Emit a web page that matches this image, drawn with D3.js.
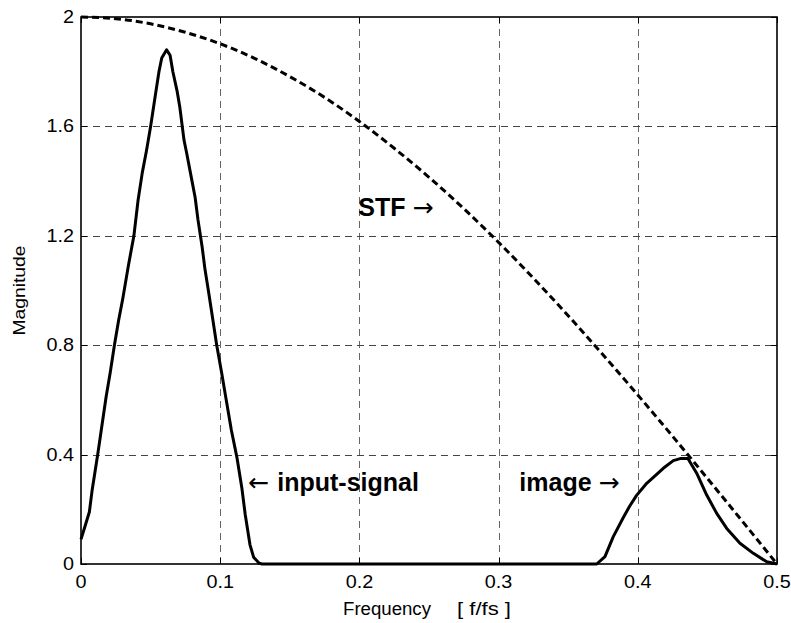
<!DOCTYPE html>
<head>
  <meta charset="utf-8">
  <title>STF and signal spectrum</title>
  <script src="https://cdn.jsdelivr.net/npm/d3@7/dist/d3.min.js"></script>
  <style>
    body{
      margin: 0;
      background: #fff;
    }
    text{
      font-family: "Liberation Sans", Arial, sans-serif;
      fill: #000;
    }
    .arrow{
      font-family: "DejaVu Sans", sans-serif;
    }
  </style>
</head>

<body>
<div id="chart"></div>
<script>
// tick labels
const xTicks = [0, 0.1, 0.2, 0.3, 0.4, 0.5];
const yTicks = [0, 0.4, 0.8, 1.2, 1.6, 2];

// STF curve (dashed), read every 0.025
const stfFreq = [0, 0.025, 0.05, 0.075, 0.1, 0.125, 0.15, 0.175, 0.2, 0.225, 0.25,
  0.275, 0.3, 0.325, 0.35, 0.375, 0.4, 0.425, 0.45, 0.475, 0.5];
const stfMag = [2.0, 1.994, 1.975, 1.944, 1.902, 1.848, 1.782, 1.706, 1.618, 1.52, 1.414,
  1.299, 1.176, 1.045, 0.908, 0.765, 0.618, 0.467, 0.313, 0.157, 0.0];

// input signal + image (solid)
const sigFreq = [0, 0.003, 0.006, 0.008, 0.012, 0.014, 0.018, 0.021, 0.024, 0.027, 0.030,
  0.034, 0.038, 0.041, 0.044, 0.047, 0.050, 0.053, 0.056, 0.058, 0.0615, 0.064, 0.066,
  0.069, 0.071, 0.074, 0.076, 0.079, 0.082, 0.084, 0.087, 0.089, 0.0915, 0.0945, 0.0975,
  0.101, 0.104, 0.108, 0.112, 0.1155, 0.118, 0.1214, 0.124, 0.128, 0.13,
  0.25, 0.3705, 0.3764, 0.3824, 0.3896, 0.394, 0.399, 0.4064, 0.4183, 0.4255, 0.431,
  0.436, 0.4423, 0.4495, 0.4567, 0.4639, 0.4734, 0.483, 0.4926, 0.5];
const sigMag = [0.09, 0.14, 0.19, 0.27, 0.40, 0.47, 0.61, 0.70, 0.80, 0.89, 0.97,
  1.09, 1.20, 1.33, 1.43, 1.51, 1.60, 1.70, 1.80, 1.85, 1.88, 1.86, 1.80,
  1.73, 1.67, 1.55, 1.50, 1.42, 1.34, 1.26, 1.16, 1.08, 1.00, 0.90, 0.80,
  0.70, 0.61, 0.49, 0.39, 0.28, 0.18, 0.07, 0.025, 0.003, 0,
  0, 0, 0.027, 0.10, 0.17, 0.21, 0.25, 0.295, 0.35, 0.378, 0.386,
  0.386, 0.332, 0.252, 0.185, 0.13, 0.076, 0.039, 0.008, 0];

const width = 791;
const height = 623;
const margin = { top: 17, right: 14, bottom: 59, left: 81 };
const iw = width - margin.left - margin.right;
const ih = height - margin.top - margin.bottom;

const x = d3.scaleLinear().domain([0, 0.5]).range([0, iw]);
const y = d3.scaleLinear().domain([0, 2]).range([ih, 0]);

const svg = d3.select('#chart')
  .append('svg')
  .attr('width', width)
  .attr('height', height);

const g = svg.append('g')
  .attr('transform', `translate(${margin.left},${margin.top})`);

// grid
g.selectAll('.vgrid')
  .data(xTicks.slice(1, -1))
  .enter()
  .append('line')
  .attr('x1', d => Math.round(x(d)) + 0.5)
  .attr('x2', d => Math.round(x(d)) + 0.5)
  .attr('y1', 0)
  .attr('y2', ih)
  .attr('stroke', '#666')
  .attr('stroke-width', 1)
  .attr('stroke-dasharray', '7,5');

g.selectAll('.hgrid')
  .data(yTicks.slice(1, -1))
  .enter()
  .append('line')
  .attr('x1', 0)
  .attr('x2', iw)
  .attr('y1', d => Math.round(y(d)) + 0.5)
  .attr('y2', d => Math.round(y(d)) + 0.5)
  .attr('stroke', '#444')
  .attr('stroke-width', 1)
  .attr('stroke-dasharray', '7,5');

// inward ticks on all four sides
const tickLen = 6;
xTicks.forEach(t => {
  const px = Math.round(x(t)) + 0.5;
  g.append('line').attr('x1', px).attr('x2', px).attr('y1', ih).attr('y2', ih - tickLen)
    .attr('stroke', '#000');
  g.append('line').attr('x1', px).attr('x2', px).attr('y1', 0).attr('y2', tickLen)
    .attr('stroke', '#000');
});
yTicks.forEach(t => {
  const py = Math.round(y(t)) + 0.5;
  g.append('line').attr('x1', 0).attr('x2', tickLen).attr('y1', py).attr('y2', py)
    .attr('stroke', '#000');
  g.append('line').attr('x1', iw).attr('x2', iw - tickLen).attr('y1', py).attr('y2', py)
    .attr('stroke', '#000');
});

// curves
const stfData = stfFreq.map((f, i) => ({ f: f, m: stfMag[i] }));
const sigData = sigFreq.map((f, i) => ({ f: f, m: sigMag[i] }));

const line = d3.line()
  .x(d => x(d.f))
  .y(d => y(d.m))
  .curve(d3.curveMonotoneX);

g.append('path')
  .datum(stfData)
  .attr('d', line)
  .attr('fill', 'none')
  .attr('stroke', '#000')
  .attr('stroke-width', 3)
  .attr('stroke-dasharray', '7,4');

g.append('path')
  .datum(sigData)
  .attr('d', d3.line().x(d => x(d.f)).y(d => y(d.m)))
  .attr('fill', 'none')
  .attr('stroke', '#000')
  .attr('stroke-width', 3)
  .attr('stroke-linejoin', 'round');

// box
g.append('rect')
  .attr('x', 0)
  .attr('y', 0)
  .attr('width', iw)
  .attr('height', ih)
  .attr('fill', 'none')
  .attr('stroke', '#000')
  .attr('stroke-width', 1.6);

// tick labels (slightly wide, like the original print)
g.selectAll('.xlab')
  .data(xTicks)
  .enter()
  .append('text')
  .attr('transform', d => `translate(${x(d)},${ih + 24}) scale(1.1,1)`)
  .attr('text-anchor', 'middle')
  .style('font-size', '18px')
  .text(d => d3.format('')(d));

g.selectAll('.ylab')
  .data(yTicks)
  .enter()
  .append('text')
  .attr('transform', d => `translate(-7,${y(d) + 6}) scale(1.1,1)`)
  .attr('text-anchor', 'end')
  .style('font-size', '18px')
  .text(d => d3.format('')(d));

// axis titles
svg.append('text')
  .attr('x', 343)
  .attr('y', 615)
  .attr('textLength', 88)
  .attr('lengthAdjust', 'spacingAndGlyphs')
  .style('font-size', '18px')
  .text('Frequency');

svg.append('text')
  .attr('x', 457)
  .attr('y', 615)
  .attr('textLength', 54)
  .attr('lengthAdjust', 'spacingAndGlyphs')
  .style('font-size', '18px')
  .attr('xml:space', 'preserve')
  .style('white-space', 'pre')
  .text('[ f/fs ]');

svg.append('text')
  .attr('transform', `translate(25,${margin.top + ih / 2}) rotate(-90)`)
  .attr('x', -45)
  .attr('textLength', 90)
  .attr('lengthAdjust', 'spacingAndGlyphs')
  .style('font-size', '16px')
  .text('Magnitude');

// annotations
function note(f, m, parts) {
  const t = g.append('text')
    .attr('x', x(f))
    .attr('y', y(m))
    .style('font-size', '25px')
    .attr('xml:space', 'preserve')
    .style('white-space', 'pre');
  parts.forEach(p => {
    t.append('tspan')
      .attr('class', p.bold ? null : 'arrow')
      .style('font-weight', p.bold ? 'bold' : 'normal')
      .text(p.s);
  });
}
note(0.1992, 1.272, [{ s: 'STF ', bold: true }, { s: '\u2192', bold: false }]);
note(0.1202, 0.268, [{ s: '\u2190 ', bold: false }, { s: 'input-signal', bold: true }]);
note(0.3149, 0.268, [{ s: 'image ', bold: true }, { s: '\u2192', bold: false }]);
</script>
</body>
